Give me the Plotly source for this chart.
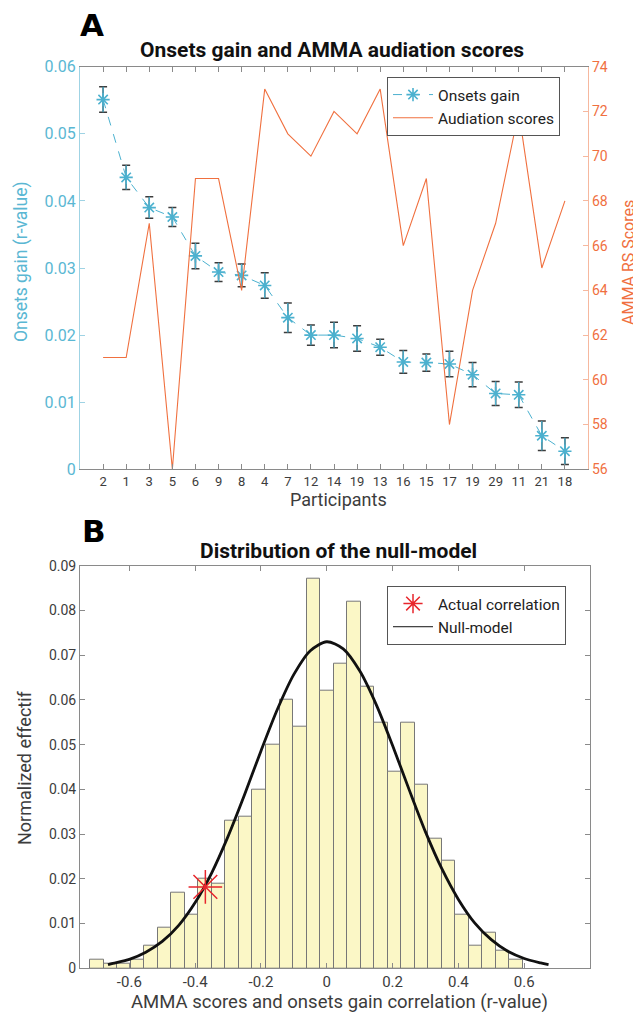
import plotly.graph_objects as go

# ---------------- Data: panel A ----------------
participants = ["2", "1", "3", "5", "6", "9", "8", "4", "7", "12", "14",
                "19", "13", "16", "15", "17", "19", "29", "11", "21", "18"]
onsets_gain = [0.0551, 0.0435, 0.0390, 0.0376, 0.0318, 0.0294, 0.0289, 0.0274,
               0.0226, 0.0200, 0.0200, 0.0195, 0.0182, 0.0160, 0.0159, 0.0157,
               0.0141, 0.0113, 0.0111, 0.0050, 0.0027]
onsets_err = [0.0019, 0.0018, 0.0016, 0.0014, 0.0019, 0.0014, 0.0017, 0.0019,
              0.0022, 0.0015, 0.0019, 0.0019, 0.0012, 0.0017, 0.0013, 0.0019,
              0.0018, 0.0018, 0.0019, 0.0022, 0.0020]
audiation_scores = [61, 61, 67, 56, 69, 69, 64, 73, 71, 70, 72,
                    71, 73, 66, 69, 58, 64, 67, 72, 65, 68]

# ---------------- Data: panel B ----------------
bin_start = -0.719
bin_width = 0.0411
hist_values = [0.002, 0.001, 0.001, 0.002, 0.005, 0.009, 0.017, 0.012,
               0.020, 0.019, 0.033, 0.034, 0.040, 0.050, 0.060, 0.054,
               0.087, 0.062, 0.068, 0.082, 0.063, 0.055, 0.044, 0.055,
               0.041, 0.029, 0.024, 0.012, 0.005, 0.008, 0.004, 0.002]
null_x = [-0.665, -0.65, -0.6, -0.55, -0.5, -0.45, -0.4, -0.35, -0.3, -0.25,
          -0.2, -0.15, -0.1, -0.05, 0.0, 0.05, 0.1, 0.15, 0.2, 0.25,
          0.3, 0.35, 0.4, 0.45, 0.5, 0.55, 0.6, 0.65, 0.674]
null_y = [0.0008, 0.0011, 0.0020, 0.0036, 0.0060, 0.0096, 0.0147, 0.0213,
          0.0295, 0.0388, 0.0486, 0.0579, 0.0657, 0.0710, 0.0730, 0.0714,
          0.0665, 0.0590, 0.0498, 0.0400, 0.0305, 0.0222, 0.0154, 0.0101,
          0.0064, 0.0038, 0.0022, 0.0012, 0.0008]
actual_r = [-0.369]
actual_y = [0.0182]

x_ticks_b = [-0.6, -0.4, -0.2, 0, 0.2, 0.4, 0.6]
x_ticklabels_b = ["-0.6", "-0.4", "-0.2", "0", "0.2", "0.4", "0.6"]

# ---------------- Styles ----------------
FONT = "Roboto"
CYAN = "#4cb1cf"
CYAN_TXT = "#5ab7d3"
CYAN_LIGHT = "#9fd3e4"
ORANGE = "#f0703f"
ORANGE_LIGHT = "#f6b89f"
GRAY = "#8a8a8a"
DARK = "#3c3c3c"
W, H = 641, 1012
OFF = 8  # page body offset


def px(x):
    return (x - OFF) / W


def py(y):
    return 1 - (y - OFF) / H


pos = list(range(1, len(participants) + 1))
bin_centers = [bin_start + bin_width * (i + 0.5) for i in range(len(hist_values))]

fig = go.Figure()

# error bar caps (dark)
fig.add_trace(go.Scatter(
    x=pos, y=onsets_gain, mode="markers", marker=dict(size=1, opacity=0),
    error_y=dict(type="data", array=onsets_err, color=DARK, thickness=1.5, width=4),
    showlegend=False, hoverinfo="skip", xaxis="x", yaxis="y"))
fig.add_trace(go.Scatter(
    x=pos, y=onsets_gain, mode="lines+markers", name="Onsets gain",
    line=dict(color=CYAN, width=1, dash="dash"),
    marker=dict(symbol="asterisk-open", size=11, color=CYAN,
                line=dict(color=CYAN, width=1.6)),
    error_y=dict(type="data", array=onsets_err, color=CYAN, thickness=1.3, width=0),
    legend="legend", xaxis="x", yaxis="y"))
fig.add_trace(go.Scatter(
    x=pos, y=audiation_scores, mode="lines", name="Audiation scores",
    line=dict(color=ORANGE, width=1.1),
    legend="legend", xaxis="x", yaxis="y2"))

# panel B
fig.add_trace(go.Bar(
    x=bin_centers, y=hist_values, width=bin_width,
    marker=dict(color="#fbf7c6", line=dict(color="#777777", width=1)),
    showlegend=False, xaxis="x2", yaxis="y3"))
fig.add_trace(go.Scatter(
    x=null_x, y=null_y, mode="lines", name="Null-model",
    line=dict(color="#111111", width=2.8, shape="spline", smoothing=0.8),
    legend="legend2", xaxis="x2", yaxis="y3", showlegend=False))
fig.add_trace(go.Scatter(
    x=actual_r, y=actual_y, mode="markers", name="Actual correlation",
    marker=dict(symbol="asterisk-open", size=28, color="#e8262c",
                line=dict(color="#e8262c", width=1.5)),
    legend="legend2", xaxis="x2", yaxis="y3"))
fig.add_trace(go.Scatter(
    x=[None], y=[None], mode="lines", name="Null-model",
    line=dict(color="#111111", width=1),
    legend="legend2", xaxis="x2", yaxis="y3"))

xa_dom = [px(80), px(588)]
xb_dom = [px(80), px(590)]
ya_dom = [py(469.3), py(66.7)]
yb_dom = [py(968.3), py(565.7)]

fig.update_layout(
    width=W, height=H,
    margin=dict(l=0, r=0, t=0, b=0, pad=0),
    paper_bgcolor="white", plot_bgcolor="white",
    font=dict(family=FONT, color=DARK),
    bargap=0,
    xaxis=dict(domain=xa_dom, anchor="y", range=[0, 22], automargin=False,
               tickmode="array", tickvals=pos, ticktext=participants,
               ticks="inside", ticklen=5, tickcolor=GRAY,
               showline=True, linecolor=GRAY, linewidth=1, mirror="ticks",
               showgrid=False, zeroline=False,
               tickfont=dict(family=FONT, size=13, color=DARK)),
    yaxis=dict(domain=ya_dom, anchor="x", range=[0, 0.06], dtick=0.01, automargin=False,
               ticks="inside", ticklen=5, tickcolor=CYAN_LIGHT,
               showline=True, linecolor=CYAN_LIGHT, linewidth=1.2,
               showgrid=False, zeroline=False,
               tickfont=dict(family=FONT, size=16, color=CYAN_TXT)),
    yaxis2=dict(overlaying="y", anchor="x", side="right", range=[56, 74], dtick=2,
                automargin=False,
                ticks="inside", ticklen=5, tickcolor=ORANGE_LIGHT,
                showline=True, linecolor=ORANGE_LIGHT, linewidth=1.2,
                showgrid=False, zeroline=False,
                tickfont=dict(family=FONT, size=14, color=ORANGE)),
    xaxis2=dict(domain=xb_dom, anchor="y3", range=[-0.75, 0.8], automargin=False,
                tickmode="array", tickvals=x_ticks_b, ticktext=x_ticklabels_b,
                ticks="inside", ticklen=5, tickcolor=GRAY,
                showline=True, linecolor=GRAY, linewidth=1, mirror="ticks",
                showgrid=False, zeroline=False,
                tickfont=dict(family=FONT, size=15, color=DARK)),
    yaxis3=dict(domain=yb_dom, anchor="x2", range=[0, 0.09], dtick=0.01, automargin=False,
                ticks="inside", ticklen=5, tickcolor=GRAY,
                showline=True, linecolor=GRAY, linewidth=1, mirror="ticks",
                showgrid=False, zeroline=False,
                tickfont=dict(family=FONT, size=14, color=DARK)),
    legend=dict(x=px(387), y=py(77), xanchor="left", yanchor="top",
                bgcolor="white", bordercolor="#555555", borderwidth=1,
                font=dict(family=FONT, size=15.5, color="#222222"),
                tracegroupgap=0, itemwidth=40),
    legend2=dict(x=px(387), y=py(586), xanchor="left", yanchor="top",
                 bgcolor="white", bordercolor="#555555", borderwidth=1,
                 font=dict(family=FONT, size=15.5, color="#222222"),
                 tracegroupgap=0, itemwidth=40),
)

annotations = [
    dict(text="<b>A</b>", x=px(78), y=py(25), xanchor="left", yanchor="middle",
         font=dict(family="DejaVu Sans", size=31, color="black")),
    dict(text="<b>Onsets gain and AMMA audiation scores</b>", x=px(332), y=py(50),
         xanchor="center", yanchor="middle",
         font=dict(family=FONT, size=21, color="#111111")),
    dict(text="Participants", x=px(338), y=py(499), xanchor="center", yanchor="middle",
         font=dict(family=FONT, size=18, color=DARK)),
    dict(text="Onsets gain (r-value)", x=px(21), y=py(262), xanchor="center",
         yanchor="middle", textangle=-90, font=dict(family=FONT, size=17.5, color=CYAN_TXT)),
    dict(text="AMMA RS Scores", x=px(628), y=py(263), xanchor="center",
         yanchor="middle", textangle=-90, font=dict(family=FONT, size=16, color=ORANGE)),
    dict(text="<b>B</b>", x=px(80), y=py(531), xanchor="left", yanchor="middle",
         font=dict(family="DejaVu Sans", size=31, color="black")),
    dict(text="<b>Distribution of the null-model</b>", x=px(338), y=py(551),
         xanchor="center", yanchor="middle",
         font=dict(family=FONT, size=21, color="#111111")),
    dict(text="AMMA scores and onsets gain correlation (r-value)", x=px(339),
         y=py(1002), xanchor="center", yanchor="middle",
         font=dict(family=FONT, size=18.5, color=DARK)),
    dict(text="Normalized effectif", x=px(24), y=py(768), xanchor="center",
         yanchor="middle", textangle=-90, font=dict(family=FONT, size=18, color=DARK)),
]
for a in annotations:
    a.update(xref="paper", yref="paper", showarrow=False)
fig.update_layout(annotations=annotations)

fig.write_html("out.html")
